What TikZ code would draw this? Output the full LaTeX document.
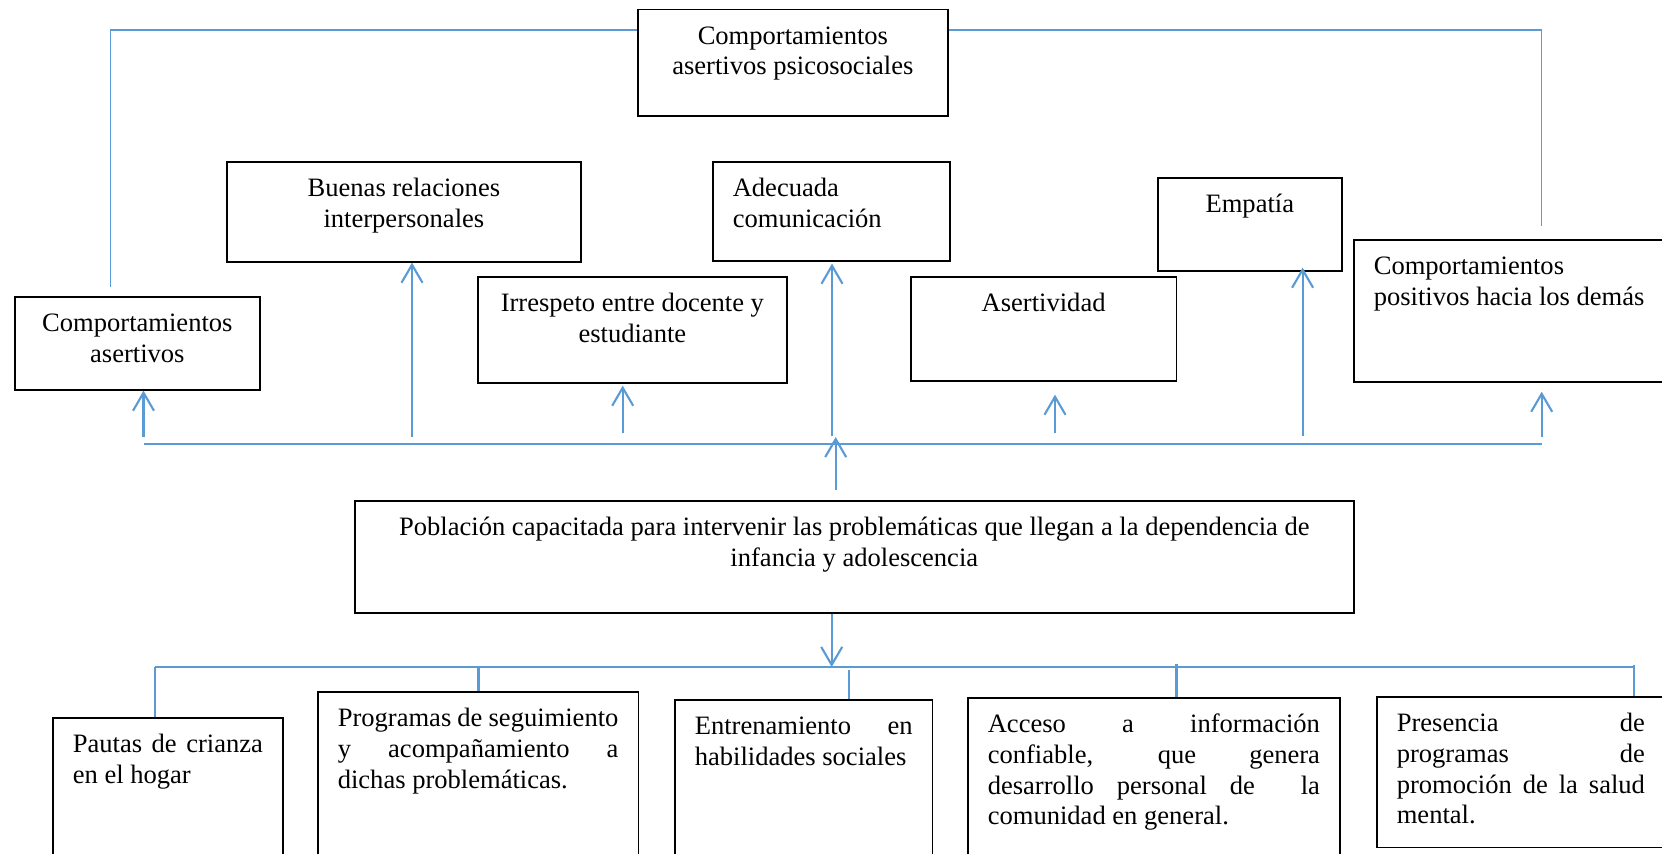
\documentclass[tikz,border=0pt]{standalone}
\usepackage{fontspec}
\setmainfont{Liberation Serif}
\usetikzlibrary{arrows.meta}
\definecolor{linkblue}{RGB}{91,155,213}
\newcommand{\jline}[1]{\makebox[\hsize][s]{\spaceskip=0pt\xspaceskip=0pt\relax #1}}
\tikzset{
>={Straight Barb[length=1.8mm,width=2.1mm]}, % open V heads
box/.style={draw, line width=0.45pt, anchor=north west, inner xsep=0.2cm, inner ysep=0pt,
  text height=0.35cm, font=\fontsize{7.55pt}{8.72pt}\selectfont,
  execute at begin node={\spaceskip=\fontdimen2\font\xspaceskip=\fontdimen2\font\relax}},
link/.style={draw=linkblue, line width=0.35pt},
arr/.style={draw=linkblue, line width=0.6pt, ->},
stub/.style={draw=linkblue, line width=0.6pt},
}

\begin{document}
\begin{tikzpicture}[x=0.01cm, y=-0.01cm]% one unit = one pixel of the sketch
  \useasboundingbox (0,0) rectangle (1662,854);
  \clip (0,0) rectangle (1662,854);

  % upper row
  \node[box, text width=2.70cm, text depth=0.715cm, align=center] (ps) at (637,8.5) {Comportamientos\\ asertivos psicosociales};
  \node[box, text width=3.14cm, text depth=0.65cm, align=center] (buen) at (226,161) {Buenas relaciones\\ interpersonales};
  \node[box, text width=2.05cm, text depth=0.58cm, align=center] (cas) at (14,296) {Comportamientos\\ asertivos};
  \node[box, text width=2.69cm, text depth=0.71cm, align=center] (irr) at (477,276) {Irrespeto entre docente y\\ estudiante};
  \node[box, text width=1.97cm, text depth=0.64cm, align=left] (adec) at (712,161) {Adecuada\\ comunicación};
  \node[box, text width=2.255cm, text depth=0.69cm, align=center] (aser) at (910,276) {Asertividad};
  \node[box, text width=1.44cm, text depth=0.58cm, align=center] (emp) at (1157,177) {Empatía};
  \node[box, text width=2.77cm, text depth=1.07cm, align=left] (pos) at (1353,239) {Comportamientos\\ positivos hacia los demás};

  % middle
  \node[box, text width=9.585cm, text depth=0.77cm, align=center] (pob) at (354,500) {Población capacitada para intervenir las problemáticas que llegan a la dependencia de\\ infancia y adolescencia};

  % lower row
  \node[box, text width=1.90cm, text depth=1.28cm, align=left] (pau) at (52,717) {\jline{Pautas de crianza}\\ en el hogar};
  \node[box, text width=2.805cm, text depth=1.54cm, align=left] (prog) at (317,691) {\jline{Programas de seguimiento}\\ \jline{y acompañamiento a}\\ dichas problemáticas.};
  \node[box, text width=2.177cm, text depth=1.46cm, align=left] (ent) at (674,699) {\jline{Entrenamiento en}\\ habilidades sociales};
  \node[box, text width=3.32cm, text depth=1.48cm, align=left] (acc) at (967,697) {\jline{Acceso a información}\\ \jline{confiable, que genera}\\ \jline{desarrollo personal de\ \ la}\\ comunidad en general.};
  \node[box, text width=2.48cm, text depth=1.157cm, align=left] (pres) at (1376,696) {\jline{Presencia de}\\ \jline{programas de}\\ \jline{promoción de la salud}\\ mental.};

  % frame round the top box
  \coordinate (fl) at (110.8,287);
  \coordinate (fr) at (1541.7,226);
  \draw[link] ([yshift=-0.215cm]ps.north west) -| (fl);
  \draw[link] ([yshift=-0.215cm]ps.north east) -| (fr);

  % upper bar and arrows
  \coordinate (barL) at (143.5,444);
  \coordinate (barR) at (1541.7,444);
  \draw[link] (barL) -- (barR);
  \coordinate (u1) at (143.5,437);
  \coordinate (u2) at (412,437);
  \coordinate (u3) at (622.7,433);
  \coordinate (u4) at (832,436);
  \coordinate (u5) at (1055,433);
  \coordinate (u6) at (1302.6,436);
  \coordinate (u7) at (1541.7,437);
  \draw[arr] (u1) -- (u1 |- cas.south);
  \draw[arr] (u2) -- (u2 |- buen.south);
  \draw[arr] (u3) -- ([yshift=-0.02cm]u3 |- irr.south);
  \draw[arr] (u4) -- ([yshift=-0.02cm]u4 |- adec.south);
  \draw[arr] (u5) -- ([yshift=-0.13cm]u5 |- aser.south);
  \draw[arr] (u6) -- ([yshift=0.04cm]u6 |- emp.south);
  \draw[arr] (u7) -- ([yshift=-0.09cm]u7 |- pos.south);
  \coordinate (up) at (835.7,490);
  \draw[arr] (up) -- (up |- u1);

  % lower bar and stubs
  \coordinate (dn) at (831.7,667);
  \draw[arr] (pob.south -| dn) -- (dn);
  \coordinate (barBL) at (155,667);
  \coordinate (barBR) at (1634,667);
  \draw[link] (barBL) -- (barBR);
  \coordinate (d2) at (478.5,667);
  \coordinate (d3) at (849.3,670);
  \coordinate (d4) at (1176.5,664);
  \coordinate (d5) at (1634,665);
  \draw[stub] (barBL) -- (barBL |- pau.north);
  \draw[stub] (d2) -- (d2 |- prog.north);
  \draw[stub] (d3) -- (d3 |- ent.north);
  \draw[stub] (d4) -- (d4 |- acc.north);
  \draw[stub] (d5) -- (d5 |- pres.north);
\end{tikzpicture}
\end{document}
